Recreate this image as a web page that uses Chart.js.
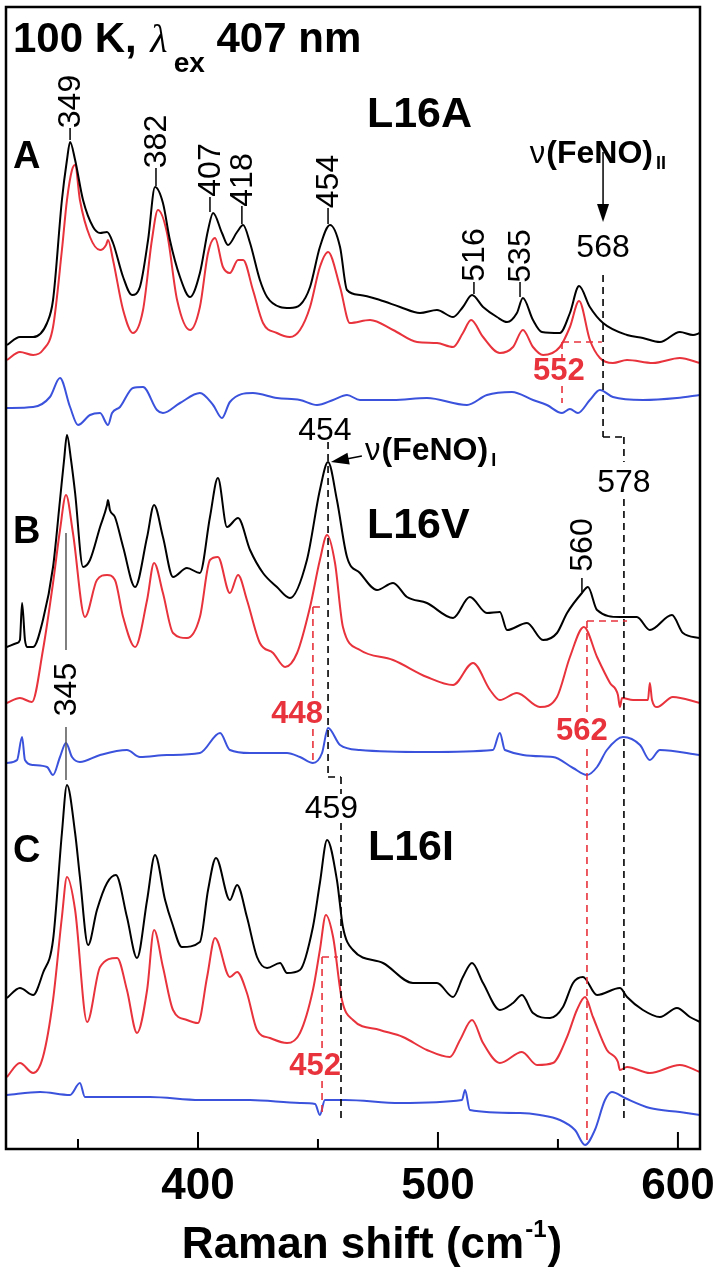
<!DOCTYPE html>
<html>
<head>
<meta charset="utf-8">
<script src="https://cdn.jsdelivr.net/npm/chart.js@4.4.1/dist/chart.umd.min.js"></script>
<style>
  html, body { margin: 0; padding: 0; background: #fff; }
  #wrap { width: 720px; height: 1273px; position: relative; }
</style>
</head>
<body>
<div id="wrap"><canvas id="raman"></canvas></div>
<script>
// Raman shift (cm-1) / intensity (arb. units, traces stacked with offsets)
const aBlackShift = [320.4, 325.8, 331.3, 337.1, 339.6, 343.3, 345.4, 346.7, 348.8, 352.1, 356.3, 359.2, 362.1, 364.6, 368.8, 372.5, 375.8, 379.2, 382.1, 385.4, 388.3, 392.5, 396.7, 400.8, 404.2, 406.3, 410.0, 412.5, 416.3, 418.8, 421.7, 425.8, 428.8, 434.2, 438.3, 442.5, 446.7, 450.8, 455.0, 459.2, 462.1, 467.5, 475.8, 484.2, 492.5, 499.6, 506.3, 510.4, 514.2, 518.8, 524.6, 528.8, 532.9, 535.4, 539.6, 543.3, 550.8, 555.0, 558.8, 563.3, 568.8, 578.8, 585.4, 592.5, 600.8, 606.3, 609.2];
const aBlackInt = [80.4, 81.2, 81.2, 82.6, 84.9, 94.9, 98.9, 100.7, 98.9, 94.9, 92.2, 91.6, 91.7, 90.6, 87.2, 85.4, 86.2, 90.9, 96.2, 94.6, 90.9, 87.2, 85.2, 87.6, 91.9, 93.6, 91.6, 90.4, 91.7, 92.4, 90.6, 86.9, 85.2, 84.2, 84.1, 84.4, 86.2, 90.2, 92.4, 90.2, 85.9, 85.4, 84.9, 84.2, 83.6, 83.9, 83.2, 84.2, 85.4, 84.2, 83.2, 82.7, 83.6, 85.1, 82.9, 81.7, 81.6, 83.6, 86.3, 84.2, 82.6, 81.4, 81.1, 80.7, 81.7, 81.4, 81.6];

const aRedShift = [320.4, 325.8, 331.3, 335.4, 339.6, 343.3, 345.4, 347.5, 348.8, 350.8, 355.0, 359.2, 361.7, 362.5, 364.6, 368.8, 372.9, 377.1, 380.8, 383.3, 387.1, 391.3, 396.7, 400.8, 404.2, 407.1, 410.4, 413.3, 416.7, 418.8, 422.9, 427.1, 432.9, 438.3, 442.5, 446.7, 450.8, 454.2, 459.2, 463.3, 471.7, 481.3, 491.3, 499.6, 506.3, 510.4, 513.8, 518.8, 525.8, 531.3, 535.4, 539.6, 543.8, 550.8, 555.0, 558.8, 563.3, 567.5, 572.9, 578.8, 589.6, 600.8, 609.2];
const aRedInt = [78.9, 79.7, 79.4, 79.9, 82.2, 89.9, 94.9, 97.9, 98.4, 94.9, 91.2, 89.9, 90.4, 90.9, 88.9, 83.9, 81.6, 83.9, 90.9, 93.9, 91.6, 84.9, 81.9, 84.2, 89.6, 91.1, 88.2, 87.6, 88.9, 88.9, 85.9, 82.6, 81.6, 81.2, 81.9, 84.2, 88.2, 89.7, 86.2, 82.6, 82.9, 81.9, 80.7, 80.6, 80.2, 81.6, 82.9, 81.2, 79.6, 80.2, 81.9, 80.2, 79.4, 80.2, 82.2, 84.8, 80.9, 79.1, 78.6, 78.9, 78.6, 79.1, 78.6];

const aBlueShift = [320.4, 331.3, 338.3, 342.5, 346.7, 350.0, 355.0, 359.2, 362.5, 364.2, 367.5, 372.9, 377.1, 382.9, 385.4, 392.5, 400.8, 406.3, 410.0, 413.3, 422.9, 432.9, 442.5, 449.6, 456.3, 462.1, 467.5, 481.3, 495.4, 512.1, 520.4, 530.8, 539.6, 545.4, 551.7, 555.0, 558.3, 563.3, 567.5, 572.9, 585.4, 599.6, 609.2];
const aBlueInt = [74.1, 74.2, 75.2, 77.1, 74.2, 72.4, 73.4, 73.6, 72.4, 73.6, 74.2, 76.1, 76.2, 73.9, 73.6, 74.6, 75.6, 74.4, 73.1, 74.7, 75.6, 75.1, 74.9, 74.4, 74.9, 75.4, 74.9, 74.9, 75.1, 74.4, 75.4, 75.7, 74.9, 74.4, 73.6, 74.0, 73.6, 74.9, 75.9, 75.2, 74.9, 75.1, 75.4];

const bBlackShift = [320.4, 324.6, 325.8, 326.7, 327.9, 328.8, 331.3, 335.4, 339.6, 342.5, 344.2, 345.4, 347.1, 348.8, 352.1, 355.0, 359.2, 362.1, 362.5, 363.3, 365.4, 368.8, 373.8, 378.8, 381.7, 385.4, 389.6, 395.4, 400.8, 405.0, 408.3, 412.1, 416.7, 421.7, 427.1, 432.9, 438.3, 445.4, 450.8, 454.2, 457.9, 462.1, 467.5, 474.6, 481.3, 487.1, 495.4, 506.3, 513.3, 520.4, 525.8, 528.8, 537.1, 543.8, 549.6, 553.8, 560.0, 562.5, 566.3, 575.8, 582.9, 588.3, 597.5, 602.1, 609.2];
const bBlackInt = [50.2, 50.6, 50.9, 54.6, 50.9, 50.2, 50.2, 52.9, 58.2, 64.9, 68.9, 71.4, 68.9, 65.6, 58.2, 58.9, 62.2, 64.4, 64.9, 63.9, 63.2, 60.2, 56.2, 61.2, 64.4, 61.2, 57.2, 58.1, 57.6, 63.2, 67.1, 62.2, 63.1, 59.9, 57.6, 56.2, 55.1, 58.9, 65.9, 68.7, 64.9, 59.2, 57.6, 55.9, 56.6, 55.2, 54.6, 53.1, 55.2, 53.6, 53.7, 51.9, 52.6, 50.9, 51.6, 53.6, 55.6, 56.2, 53.9, 53.2, 53.2, 51.9, 53.4, 51.6, 51.1];

const bRedShift = [320.4, 325.8, 330.8, 335.4, 339.6, 342.5, 345.0, 347.9, 352.9, 357.9, 362.1, 365.4, 368.8, 373.8, 378.8, 381.7, 385.4, 389.6, 395.4, 400.8, 405.0, 408.3, 413.3, 416.7, 420.4, 425.8, 431.3, 436.3, 441.3, 446.7, 450.8, 453.8, 457.1, 460.4, 467.5, 481.3, 495.4, 506.3, 514.6, 521.7, 525.8, 532.9, 542.5, 549.6, 555.0, 560.8, 566.3, 571.7, 575.0, 575.8, 576.7, 581.3, 587.5, 588.3, 589.2, 591.3, 597.9, 609.2];
const bRedInt = [44.6, 45.1, 44.7, 49.9, 56.6, 61.9, 65.4, 61.6, 53.2, 56.9, 57.4, 56.9, 53.2, 50.2, 54.9, 58.6, 55.6, 51.6, 51.1, 53.2, 58.9, 59.2, 55.6, 57.4, 54.9, 50.6, 49.6, 48.2, 49.6, 54.2, 58.9, 61.4, 58.6, 52.2, 49.9, 48.9, 47.2, 46.4, 48.6, 45.9, 44.9, 45.6, 44.2, 45.2, 49.2, 52.2, 49.2, 46.6, 45.4, 44.2, 45.1, 44.9, 44.9, 46.6, 44.9, 44.2, 45.2, 44.6];

const bBlueShift = [320.4, 324.6, 326.7, 327.9, 331.3, 337.1, 339.6, 342.5, 345.0, 347.5, 350.8, 359.2, 370.4, 375.8, 387.1, 400.8, 409.2, 413.3, 421.7, 437.1, 442.5, 447.9, 451.7, 454.2, 459.2, 467.5, 495.4, 522.9, 525.8, 527.9, 547.9, 556.3, 562.1, 566.3, 570.4, 577.1, 584.2, 588.3, 592.5, 609.2];
const bBlueInt = [38.6, 38.9, 41.2, 38.9, 38.4, 38.2, 37.4, 39.2, 40.6, 39.2, 38.7, 39.4, 39.9, 39.2, 39.4, 39.6, 41.6, 39.9, 39.6, 39.6, 39.2, 38.6, 39.6, 42.1, 40.4, 39.9, 39.7, 39.9, 41.6, 39.9, 39.2, 38.1, 37.4, 38.2, 39.9, 41.2, 40.4, 38.9, 39.9, 39.4];

const cBlackShift = [320.4, 325.8, 331.3, 335.4, 339.6, 343.3, 345.4, 348.8, 350.8, 354.2, 357.9, 362.1, 365.8, 370.4, 374.6, 378.8, 382.1, 386.3, 389.2, 393.3, 400.8, 404.2, 407.5, 413.3, 416.3, 420.4, 424.6, 428.8, 434.2, 437.1, 442.5, 447.9, 450.8, 453.8, 457.9, 460.4, 464.6, 477.1, 489.6, 499.6, 506.3, 510.4, 514.2, 518.8, 525.8, 531.3, 535.0, 539.6, 546.7, 552.1, 556.3, 560.4, 566.3, 575.8, 578.8, 585.4, 592.5, 599.6, 605.0, 609.2];
const cBlackInt = [15.1, 16.1, 15.4, 17.6, 20.9, 31.6, 36.4, 31.6, 27.2, 20.4, 23.9, 26.6, 27.4, 23.2, 19.1, 24.9, 29.4, 24.9, 22.6, 20.2, 20.7, 25.9, 29.1, 24.9, 26.4, 23.2, 19.2, 18.1, 18.6, 17.6, 17.9, 22.2, 26.6, 30.9, 26.9, 22.2, 19.9, 18.6, 16.6, 16.6, 15.2, 17.2, 18.6, 16.6, 13.9, 14.6, 15.4, 13.6, 13.1, 14.2, 16.6, 17.2, 15.4, 16.1, 15.2, 13.9, 13.2, 14.1, 13.2, 12.7];

const cRedShift = [320.4, 325.8, 331.3, 335.4, 339.6, 343.3, 345.4, 348.8, 353.8, 359.2, 366.3, 370.4, 374.6, 378.8, 381.7, 385.4, 389.6, 395.4, 400.0, 403.8, 407.1, 413.3, 416.3, 420.4, 424.6, 430.0, 437.1, 442.5, 447.9, 450.8, 453.3, 456.3, 460.0, 464.6, 475.8, 485.4, 495.4, 505.0, 509.2, 514.2, 518.8, 525.8, 535.0, 541.3, 547.9, 553.8, 557.9, 561.3, 564.6, 570.4, 575.0, 575.8, 578.8, 588.3, 600.8, 609.2];
const cRedInt = [7.2, 8.6, 7.6, 9.2, 14.9, 23.2, 27.2, 23.9, 12.7, 18.2, 19.1, 15.9, 11.6, 15.9, 21.9, 18.2, 13.9, 12.9, 12.6, 17.2, 21.1, 17.2, 17.7, 15.6, 11.9, 11.1, 10.6, 11.6, 15.9, 19.9, 23.4, 21.2, 14.9, 12.9, 11.9, 11.2, 9.9, 9.2, 10.9, 12.9, 10.6, 8.6, 9.7, 8.4, 8.6, 11.2, 13.9, 15.2, 13.2, 9.9, 8.7, 7.9, 8.2, 7.6, 8.4, 7.7];

const cBlueShift = [320.4, 334.2, 346.7, 350.8, 352.9, 380.0, 400.8, 421.7, 442.5, 448.8, 450.8, 452.9, 461.3, 484.2, 510.0, 511.3, 513.3, 534.2, 542.5, 550.8, 557.1, 561.3, 565.4, 569.6, 572.5, 577.9, 588.3, 600.8, 609.2];
const cBlueInt = [5.4, 5.7, 5.4, 6.6, 5.2, 5.2, 4.9, 4.9, 4.6, 4.5, 3.4, 4.9, 4.9, 4.6, 4.9, 5.9, 3.9, 3.6, 3.4, 2.9, 1.9, 0.4, 1.9, 4.9, 5.7, 5.1, 4.1, 3.7, 3.4];

const majorTicks = [400, 500, 600];
const minorTicks = [350, 450, 550];

// vertical peak labels: text, shift, label centre (intensity), leader from/to
const peakText = ['349', '382', '407', '418', '454', '516', '535', '560', '345'];
const peakShift = [346.7, 382.5, 405.0, 418.3, 454.2, 515.0, 534.2, 560.0, 345.0];
const peakMid = [104.75, 100.75, 97.9, 96.9, 96.75, 89.4, 89.3, 60.4, 45.95];
const leaderTop = [102.1, 98.1, 95.2, 94.3, 94.1, 86.7, 86.7, 57.1, null];
const leaderEnd = [100.9, 96.3, 93.7, 92.5, 92.5, 85.5, 85.2, 55.7, null];

// horizontal shift labels: text, shift, baseline, colour
const markText = ['568', '578', '454', '459', '552', '448', '562', '452'];
const markShift = [568.8, 577.5, 452.9, 455.6, 550.4, 441.3, 560.0, 448.8];
const markBase = [89.2, 65.7, 70.9, 33.1, 76.9, 42.6, 40.9, 7.4];
const markRed = [false, false, false, false, true, true, true, true];

// dashed guides [x1, y1, x2, y2]
const blackGuides = [
  [568.8, 87.4, 568.8, 71.2], [568.8, 71.2, 577.5, 71.2], [577.5, 71.2, 577.5, 68.7], [577.5, 65.0, 577.5, 2.7],
  [454.2, 70.7, 454.2, 37.2], [454.2, 37.2, 459.6, 37.2], [459.6, 37.2, 459.6, 35.5], [459.6, 32.6, 459.6, 3.1]
];
const redGuides = [
  [551.7, 80.7, 568.3, 80.7], [551.7, 80.7, 551.7, 78.9], [551.7, 76.3, 551.7, 74.6],
  [447.9, 54.2, 452.1, 54.2], [447.9, 54.2, 447.9, 44.9], [447.9, 42.0, 447.9, 38.7],
  [562.1, 52.8, 578.8, 52.8], [562.1, 52.8, 562.1, 43.6], [562.1, 40.0, 562.1, 0.9],
  [451.7, 19.2, 458.3, 19.2], [451.7, 19.2, 451.7, 9.9], [451.7, 6.8, 451.7, 3.4]
];
const greyGuides = [[345.0, 61.6, 345.0, 49.9], [345.0, 42.2, 345.0, 36.9]];
const arrows = [[568.8, 99.7, 568.8, 92.7], [468.3, 69.3, 455.4, 68.7]];

const BLACK = '#000000';
const RED = '#e8323c';
const BLUE = '#3a52dc';
const SANS = '"Liberation Sans", Arial, Helvetica, sans-serif';
const SERIF = '"Liberation Serif", "DejaVu Serif", serif';

function points(xs, ys) {
  const n = Math.min(xs.length, ys.length);
  const out = [];
  for (let i = 0; i < n; i++) out.push({ x: xs[i], y: ys[i] });
  return out;
}

function trace(xs, ys, color) {
  return {
    data: points(xs, ys),
    borderColor: color,
    borderWidth: 2,
    showLine: true,
    pointRadius: 0,
    fill: false,
    cubicInterpolationMode: 'monotone'
  };
}

function richText(ctx, parts, x, y) {
  let cx = x;
  parts.forEach(p => {
    ctx.font = p.font;
    ctx.fillText(p.text, cx, y + (p.dy || 0));
    cx += ctx.measureText(p.text).width + (p.gap || 0);
  });
}

function richWidth(ctx, parts) {
  let w = 0;
  parts.forEach(p => { ctx.font = p.font; w += ctx.measureText(p.text).width + (p.gap || 0); });
  return w;
}

const annotate = {
  id: 'annotate',
  afterDatasetsDraw(chart) {
    const { ctx, chartArea: a, scales: { x, y } } = chart;
    const X = v => x.getPixelForValue(v);
    const Y = v => y.getPixelForValue(v);
    const seg = (g) => { ctx.beginPath(); ctx.moveTo(X(g[0]), Y(g[1])); ctx.lineTo(X(g[2]), Y(g[3])); ctx.stroke(); };

    ctx.save();

    // dashed guides
    ctx.lineWidth = 1.6;
    ctx.setLineDash([7, 5]);
    ctx.strokeStyle = BLACK;
    blackGuides.forEach(seg);
    ctx.strokeStyle = RED;
    redGuides.forEach(seg);
    ctx.setLineDash([]);
    ctx.strokeStyle = '#555';
    ctx.lineWidth = 1.5;
    greyGuides.forEach(seg);

    // leaders to peaks
    ctx.strokeStyle = BLACK;
    ctx.lineWidth = 1.5;
    peakShift.forEach((s, i) => {
      if (leaderTop[i] !== null) seg([s, leaderTop[i], s, leaderEnd[i]]);
    });

    // arrows
    arrows.forEach(g => {
      const x1 = X(g[0]), y1 = Y(g[1]), x2 = X(g[2]), y2 = Y(g[3]);
      const ang = Math.atan2(y2 - y1, x2 - x1);
      const L = 18, W = 6;
      ctx.beginPath();
      ctx.moveTo(x1, y1);
      ctx.lineTo(x2 - Math.cos(ang) * L * 0.8, y2 - Math.sin(ang) * L * 0.8);
      ctx.stroke();
      ctx.beginPath();
      ctx.moveTo(x2, y2);
      ctx.lineTo(x2 - Math.cos(ang) * L - Math.sin(ang) * W, y2 - Math.sin(ang) * L + Math.cos(ang) * W);
      ctx.lineTo(x2 - Math.cos(ang) * L + Math.sin(ang) * W, y2 - Math.sin(ang) * L - Math.cos(ang) * W);
      ctx.closePath();
      ctx.fillStyle = BLACK;
      ctx.fill();
    });

    // vertical peak labels
    ctx.fillStyle = BLACK;
    ctx.font = `32px ${SANS}`;
    ctx.textAlign = 'center';
    ctx.textBaseline = 'middle';
    peakText.forEach((t, i) => {
      ctx.save();
      ctx.translate(X(peakShift[i]), Y(peakMid[i]));
      ctx.rotate(-Math.PI / 2);
      ctx.fillText(t, 0, 1);
      ctx.restore();
    });

    // horizontal shift labels
    ctx.textBaseline = 'alphabetic';
    markText.forEach((t, i) => {
      ctx.fillStyle = markRed[i] ? RED : BLACK;
      ctx.font = markRed[i] ? `bold 31px ${SANS}` : `32px ${SANS}`;
      ctx.fillText(t, X(markShift[i]), Y(markBase[i]));
    });

    // headings and panel names
    ctx.textAlign = 'left';
    ctx.fillStyle = BLACK;
    richText(ctx, [
      { text: '100 K, ', font: `bold 42px ${SANS}`, gap: 2 },
      { text: 'λ', font: `italic 40px ${SERIF}`, gap: 6 },
      { text: 'ex', font: `bold 28px ${SANS}`, dy: 20 },
      { text: ' 407 nm', font: `bold 42px ${SANS}` }
    ], X(322.9), Y(109.7));

    ctx.font = `bold 38px ${SANS}`;
    ctx.fillText('A', X(322.9), Y(98.1));
    ctx.fillText('B', X(322.9), Y(60.6));
    ctx.fillText('C', X(322.9), Y(28.7));

    ctx.font = `bold 43px ${SANS}`;
    ctx.fillText('L16A', X(470.4), Y(102.2));
    ctx.fillText('L16V', X(470.4), Y(61.1));
    ctx.fillText('L16I', X(470.8), Y(28.9));

    const feno = sub => [
      { text: 'ν', font: `31px ${SANS}`, gap: 1 },
      { text: '(FeNO)', font: `bold 32px ${SANS}`, gap: 3 },
      { text: sub, font: `bold 18px ${SANS}`, dy: 6 }
    ];
    richText(ctx, feno('II'), X(538.3), Y(98.6));
    richText(ctx, feno('I'), X(469.6), Y(68.9));

    // frame and inward ticks
    ctx.strokeStyle = BLACK;
    ctx.lineWidth = 2.5;
    ctx.strokeRect(a.left, a.top, a.right - a.left, a.bottom - a.top);
    ctx.lineWidth = 2;
    majorTicks.forEach(v => { ctx.beginPath(); ctx.moveTo(X(v), a.bottom); ctx.lineTo(X(v), a.bottom - 17); ctx.stroke(); });
    minorTicks.forEach(v => { ctx.beginPath(); ctx.moveTo(X(v), a.bottom); ctx.lineTo(X(v), a.bottom - 10); ctx.stroke(); });

    // axis title with superscript
    const title = [
      { text: 'Raman shift (cm', font: `bold 44px ${SANS}`, gap: 1 },
      { text: '-1', font: `bold 24px ${SANS}`, dy: -21, gap: 1 },
      { text: ')', font: `bold 44px ${SANS}` }
    ];
    const tw = richWidth(ctx, title);
    const cx = (a.left + a.right) / 2 + 19;
    richText(ctx, title, cx - tw / 2, chart.height - 15);

    ctx.restore();
  }
};

new Chart(document.getElementById('raman'), {
  type: 'scatter',
  data: {
    datasets: [
      trace(aBlackShift, aBlackInt, BLACK),
      trace(aRedShift, aRedInt, RED),
      trace(aBlueShift, aBlueInt, BLUE),
      trace(bBlackShift, bBlackInt, BLACK),
      trace(bRedShift, bRedInt, RED),
      trace(bBlueShift, bBlueInt, BLUE),
      trace(cBlackShift, cBlackInt, BLACK),
      trace(cRedShift, cRedInt, RED),
      trace(cBlueShift, cBlueInt, BLUE)
    ]
  },
  options: {
    responsive: true,
    maintainAspectRatio: false,
    animation: false,
    layout: { padding: { left: 6, right: 20, top: 7, bottom: 0 } },
    plugins: {
      legend: { display: false },
      tooltip: { enabled: false }
    },
    scales: {
      x: {
        type: 'linear',
        position: 'bottom',
        min: 320,
        max: 609.2,
        grid: { display: false, drawTicks: false },
        border: { display: false },
        afterBuildTicks: s => { s.ticks = majorTicks.map(v => ({ value: v })); },
        afterFit: s => { s.height = 124; s.paddingLeft = 0; s.paddingRight = 0; },
        ticks: {
          autoSkip: false,
          maxRotation: 0,
          padding: 11,
          color: BLACK,
          font: { family: SANS, size: 44, weight: 'bold', lineHeight: 1.2 }
        }
      },
      y: { type: 'linear', min: 0, max: 114.2, display: false }
    }
  },
  plugins: [annotate]
});
</script>
</body>
</html>
